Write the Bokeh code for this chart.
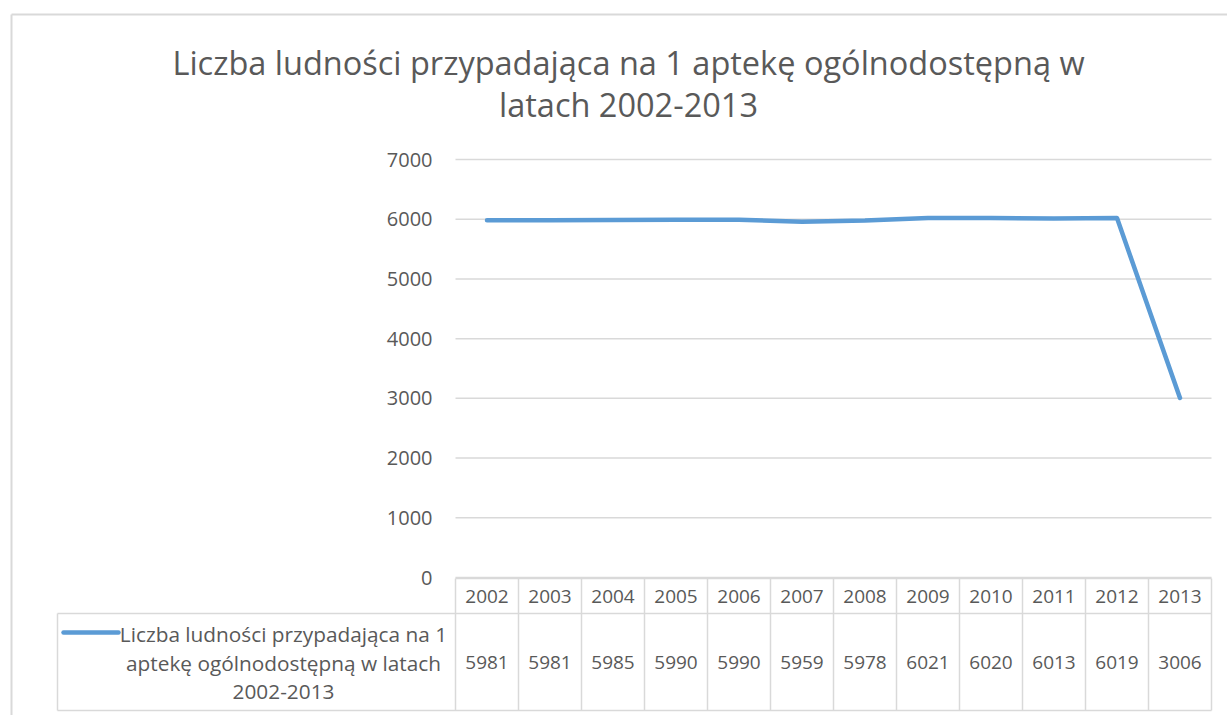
from bokeh.plotting import figure
from bokeh.models import Range1d
from bokeh.core.properties import value
from bokeh.embed import file_html
from bokeh.resources import INLINE

# ---- data ----
years = ["2002", "2003", "2004", "2005", "2006", "2007", "2008", "2009", "2010", "2011", "2012", "2013"]
values = [5981, 5981, 5985, 5990, 5990, 5959, 5978, 6021, 6020, 6013, 6019, 3006]
y_ticks = [0, 1000, 2000, 3000, 4000, 5000, 6000, 7000]
title_lines = ["Liczba ludności przypadająca na 1 aptekę ogólnodostępną w", "latach 2002-2013"]
series_label = ["Liczba ludności przypadająca na 1", "aptekę ogólnodostępną w latach", "2002-2013"]

# ---- layout (figure pixels) ----
W, H = 1227, 715
PA_L, PA_R = 455, 1211          # plot area left/right
PA_T, PA_B = 159, 577           # y of 7000 and of 0
YMAX = 7000
n = len(years)
colw = (PA_R - PA_L) / n
ppu = (PA_B - PA_T) / YMAX       # pixels per value unit

FONT = value("Open Sans")
TXT = "#595959"
GRID = "#D9D9D9"
BLUE = "#5B9BD5"

x0 = -0.5 - PA_L / colw
x1 = n - 0.5 + (W - PA_R) / colw
y1 = PA_B / ppu
y0 = -(H - PA_B) / ppu

p = figure(width=W, height=H, output_backend="svg", toolbar_location=None,
           x_range=Range1d(x0, x1), y_range=Range1d(y0, y1),
           x_axis_location=None, y_axis_location=None, min_border=0)
p.extra_x_ranges = {"px": Range1d(0, W)}
p.extra_y_ranges = {"px": Range1d(H, 0)}
p.xgrid.visible = False
p.ygrid.visible = False
p.outline_line_color = None
p.background_fill_color = "white"
p.border_fill_color = "white"

# chart border (top and left visible)
p.segment(x0=[11, 11], y0=[14, 14], x1=[W, 11], y1=[14, H], x_range_name="px", y_range_name="px",
          line_color=GRID, line_width=2)

# title
p.text(x=[628, 628], y=[62, 104], text=title_lines, x_range_name="px", y_range_name="px",
       text_font=FONT, text_font_size="32.5px", text_color=TXT, text_align="center",
       text_baseline="alphabetic")

# gridlines
p.segment(x0=[PA_L] * len(y_ticks), x1=[PA_R] * len(y_ticks), y0=y_ticks, y1=y_ticks,
          x_range_name="px", line_color=GRID, line_width=1.5)
# y tick labels
p.text(x=[PA_L - 23] * len(y_ticks), y=y_ticks, text=[str(t) for t in y_ticks], x_range_name="px",
       text_font=FONT, text_font_size="20px", text_color=TXT, text_align="right", text_baseline="middle")

# data line
xs = list(range(n))
p.line(xs, values, line_color=BLUE, line_width=4.5, line_cap="round", line_join="round")

# ---- data table ----
T_TOP, T_MID, T_BOT, T_LEFT = 578, 613, 710, 57
bounds = [i - 0.5 for i in range(n + 1)]
p.segment(x0=bounds, x1=bounds, y0=[T_TOP] * (n + 1), y1=[T_BOT] * (n + 1),
          y_range_name="px", line_color=GRID, line_width=1.5)
p.segment(x0=[PA_L, T_LEFT, T_LEFT, T_LEFT], x1=[PA_R, PA_R, PA_R, T_LEFT],
          y0=[T_TOP, T_MID, T_BOT, T_MID], y1=[T_TOP, T_MID, T_BOT, T_BOT],
          x_range_name="px", y_range_name="px", line_color=GRID, line_width=1.5)
hy = (T_TOP + T_MID) / 2
p.text(x=xs, y=[hy] * n, text=years, y_range_name="px", text_font=FONT, text_font_size="19px",
       text_color=TXT, text_align="center", text_baseline="middle")
p.text(x=xs, y=[662] * n, text=[str(v) for v in values], y_range_name="px", text_font=FONT,
       text_font_size="19px", text_color=TXT, text_align="center", text_baseline="alphabetic")
# legend key + series label
p.segment(x0=[63], x1=[118], y0=[632], y1=[632], x_range_name="px", y_range_name="px",
          line_color=BLUE, line_width=4.5, line_cap="round")
p.text(x=[283] * 3, y=[633, 662, 691], text=series_label, x_range_name="px", y_range_name="px",
       text_font=FONT, text_font_size="20.8px", text_color=TXT, text_align="center",
       text_baseline="alphabetic")

open("out.html", "w").write(file_html(p, INLINE))
